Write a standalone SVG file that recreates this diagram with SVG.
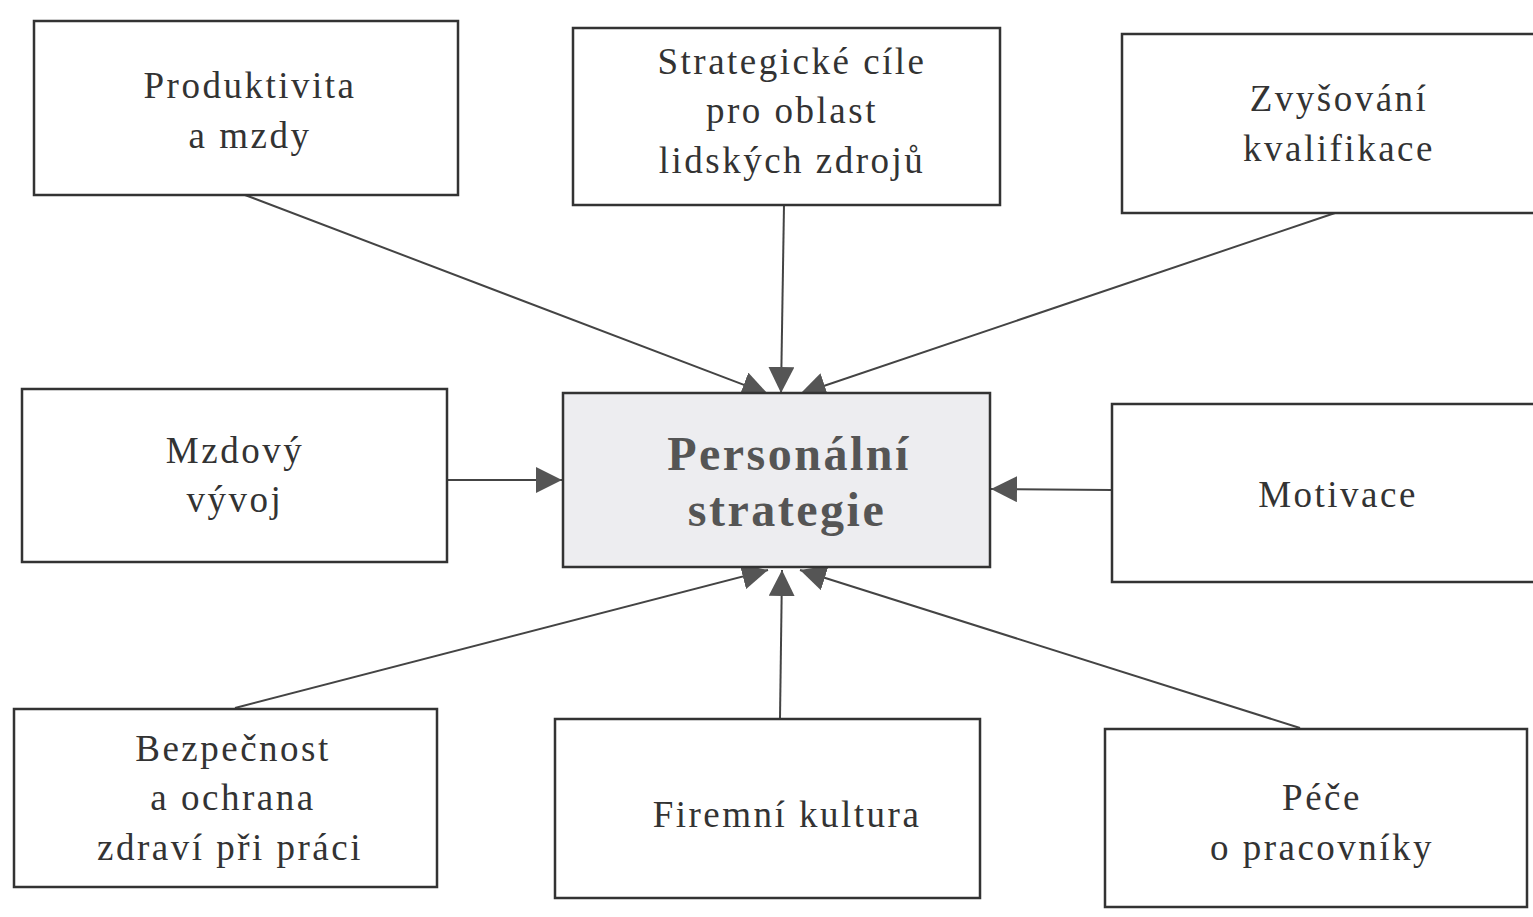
<svg xmlns="http://www.w3.org/2000/svg" width="1533" height="917" viewBox="0 0 1533 917">
<defs>
<marker id="arr" viewBox="0 0 10 10" refX="10" refY="5" markerWidth="26" markerHeight="26" markerUnits="userSpaceOnUse" orient="auto">
<path d="M0,0 L10,5 L0,10 z" fill="#555"/>
</marker>
<style>
.box{fill:#fff;stroke:#333;stroke-width:2.5}
.ctr{fill:#ededf0;stroke:#333;stroke-width:2.5}
.t{font-family:"Liberation Serif","Times New Roman",serif;font-size:37px;letter-spacing:2.5px;fill:#333;text-anchor:middle}
.tb{font-family:"Liberation Serif","Times New Roman",serif;font-size:48px;letter-spacing:2.5px;font-weight:bold;fill:#555;text-anchor:middle}
.c{stroke:#444;stroke-width:2;fill:none;marker-end:url(#arr)}
</style>
</defs>
<rect width="1533" height="917" fill="#fff"/>
<g id="connectors">
<line class="c" x1="245" y1="195" x2="768" y2="394"/>
<line class="c" x1="784" y1="205" x2="781" y2="393"/>
<line class="c" x1="1335" y1="213" x2="800" y2="394"/>
<line class="c" x1="447" y1="480" x2="562" y2="480"/>
<line class="c" x1="1112" y1="490" x2="991" y2="489"/>
<line class="c" x1="235" y1="708" x2="768" y2="570"/>
<line class="c" x1="780" y1="718" x2="782" y2="570"/>
<line class="c" x1="1300" y1="728" x2="800" y2="570"/>
</g>
<g id="n1"><rect class="box" x="34" y="21" width="424" height="174"/>
<text class="t" x="250" y="98">Produktivita</text><text class="t" x="250" y="148">a mzdy</text></g>
<g id="n2"><rect class="box" x="573" y="28" width="427" height="177"/>
<text class="t" x="792" y="74">Strategické cíle</text><text class="t" x="792" y="123">pro oblast</text><text class="t" x="792" y="173">lidských zdrojů</text></g>
<g id="n3"><rect class="box" x="1122" y="34" width="420" height="179"/>
<text class="t" x="1339" y="111">Zvyšování</text><text class="t" x="1339" y="161">kvalifikace</text></g>
<g id="n4"><rect class="box" x="22" y="389" width="425" height="173"/>
<text class="t" x="235" y="463">Mzdový</text><text class="t" x="235" y="512">vývoj</text></g>
<g id="n5"><rect class="ctr" x="563" y="393" width="427" height="174"/>
<text class="tb" x="789" y="470">Personální</text><text class="tb" x="787" y="526">strategie</text></g>
<g id="n6"><rect class="box" x="1112" y="404" width="430" height="178"/>
<text class="t" x="1338" y="507">Motivace</text></g>
<g id="n7"><rect class="box" x="14" y="709" width="423" height="178"/>
<text class="t" x="233" y="761">Bezpečnost</text><text class="t" x="233" y="810">a ochrana</text><text class="t" x="230" y="860">zdraví při práci</text></g>
<g id="n8"><rect class="box" x="555" y="719" width="425" height="179"/>
<text class="t" x="787" y="827">Firemní kultura</text></g>
<g id="n9"><rect class="box" x="1105" y="729" width="422" height="178"/>
<text class="t" x="1322" y="810">Péče</text><text class="t" x="1322" y="860">o pracovníky</text></g>
</svg>
